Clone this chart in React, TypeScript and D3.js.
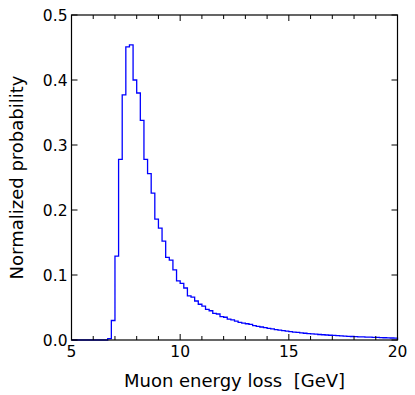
import React, { useEffect, useRef } from 'react';
import * as d3 from 'd3';

// histogram: 90 bins of width 1/6 GeV from 5 to 20
const binStart = 5;
const binEnd = 20;
const binCount = 90;
const probabilities = [
  0, 0, 0, 0, 0, 0, 0, 0, 0, 0,
  0.002, 0.030, 0.129, 0.278, 0.377, 0.451, 0.454, 0.400, 0.380, 0.338,
  0.278, 0.256, 0.226, 0.186, 0.172, 0.152, 0.127, 0.123, 0.108, 0.091,
  0.087, 0.080, 0.068, 0.066, 0.060, 0.055, 0.052, 0.047, 0.045, 0.041,
  0.040, 0.036, 0.035, 0.032, 0.031, 0.029, 0.027, 0.026, 0.025, 0.024,
  0.022, 0.021, 0.020, 0.019, 0.018, 0.017, 0.016, 0.0152, 0.0145, 0.0138,
  0.0128, 0.0122, 0.0116, 0.0110, 0.0104, 0.0099, 0.0094, 0.0089, 0.0085, 0.0081,
  0.0077, 0.0073, 0.0070, 0.0066, 0.0063, 0.0060, 0.0057, 0.0054, 0.0052, 0.0049,
  0.0047, 0.0045, 0.0043, 0.0041, 0.0039, 0.0037, 0.0035, 0.0033, 0.0031, 0.0029,
];
const xMajorTicks = [5, 10, 15, 20];
const yTicks = [0, 0.1, 0.2, 0.3, 0.4, 0.5];

const App = () => {
  const chartRef = useRef<SVGSVGElement | null>(null);

  useEffect(() => {
    const width = 415;
    const height = 395;
    const margin = { top: 15, right: 17.5, bottom: 55, left: 71.5 };
    const font = 'DejaVu Sans, sans-serif';

    const svg = d3.select(chartRef.current)
      .attr('width', width)
      .attr('height', height);
    svg.selectAll('*').remove();

    const x = d3.scaleLinear()
      .domain([binStart, binEnd])
      .range([margin.left, width - margin.right]);
    const y = d3.scaleLinear()
      .domain([0, 0.5])
      .range([height - margin.bottom, margin.top]);

    const binWidth = (binEnd - binStart) / binCount;
    const points: [number, number][] = [[binStart, 0]];
    probabilities.forEach((p, i) => points.push([binStart + i * binWidth, p]));
    points.push([binEnd, probabilities[binCount - 1]]);
    points.push([binEnd, 0]);

    // step outline
    const line = d3.line<[number, number]>()
      .x(d => x(d[0]))
      .y(d => y(d[1]))
      .curve(d3.curveStepAfter);

    svg.append('path')
      .datum(points)
      .attr('fill', 'none')
      .attr('stroke', '#0000ff')
      .attr('stroke-width', 1.3)
      .attr('d', line);

    const x0 = x.range()[0];
    const x1 = x.range()[1];
    const y0 = y.range()[0];
    const y1 = y.range()[1];

    // ticks (inward)
    const minor = d3.range(binStart, binEnd + 1);
    const tickG = svg.append('g').attr('stroke', 'black').attr('stroke-width', 1);
    minor.forEach(v => {
      const len = xMajorTicks.includes(v) ? 6 : 4;
      tickG.append('line').attr('x1', x(v)).attr('x2', x(v)).attr('y1', y0).attr('y2', y0 - len);
      tickG.append('line').attr('x1', x(v)).attr('x2', x(v)).attr('y1', y1).attr('y2', y1 + len);
    });
    yTicks.forEach(v => {
      tickG.append('line').attr('x1', x0).attr('x2', x0 + 6).attr('y1', y(v)).attr('y2', y(v));
      tickG.append('line').attr('x1', x1).attr('x2', x1 - 6).attr('y1', y(v)).attr('y2', y(v));
    });

    // frame
    svg.append('rect')
      .attr('x', x0)
      .attr('y', y1)
      .attr('width', x1 - x0)
      .attr('height', y0 - y1)
      .attr('fill', 'none')
      .attr('stroke', 'black')
      .attr('stroke-width', 1.2);

    // tick labels
    svg.append('g')
      .selectAll('text')
      .data(xMajorTicks)
      .enter()
      .append('text')
      .attr('x', d => x(d))
      .attr('y', y0 + 17)
      .attr('text-anchor', 'middle')
      .attr('font-family', font)
      .attr('font-size', 15.5)
      .text(d => d);

    svg.append('g')
      .selectAll('text')
      .data(yTicks)
      .enter()
      .append('text')
      .attr('x', x0 - 4)
      .attr('y', d => y(d))
      .attr('dy', '0.36em')
      .attr('text-anchor', 'end')
      .attr('font-family', font)
      .attr('font-size', 15.5)
      .text(d => d3.format('.1f')(d));

    // axis labels
    svg.append('text')
      .attr('x', (x0 + x1) / 2)
      .attr('y', 387)
      .attr('text-anchor', 'middle')
      .attr('font-family', font)
      .attr('font-size', 18)
      .attr('xml:space', 'preserve')
      .style('white-space', 'pre')
      .text('Muon energy loss  [GeV]');

    svg.append('text')
      .attr('transform', `translate(23,${(y0 + y1) / 2}) rotate(-90)`)
      .attr('text-anchor', 'middle')
      .attr('font-family', font)
      .attr('font-size', 18)
      .text('Normalized probability');
  }, []);

  return (
    <svg ref={chartRef} style={{ position: 'absolute', left: 0, top: 0 }}></svg>
  );
};

export default App;
